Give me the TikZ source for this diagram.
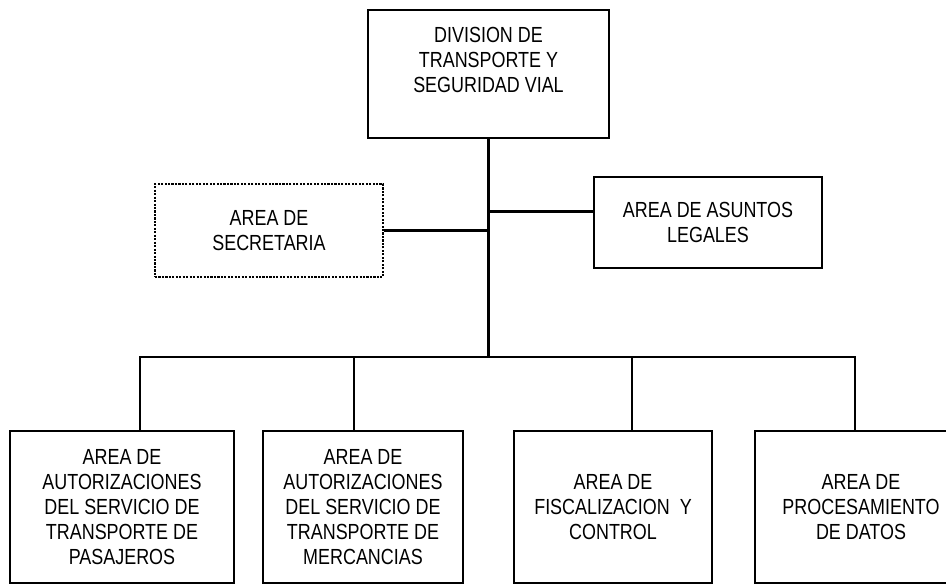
\documentclass[tikz,border=0pt]{standalone}
\usepackage{fontspec}
\setmainfont{Liberation Sans}[FakeStretch=0.82]
\usetikzlibrary{calc}

\begin{document}
\begin{tikzpicture}[
  x=0.75pt, y=-0.75pt,
  font=\fontsize{16.4pt}{18.75pt}\selectfont,
  unit/.style={draw, line width=1.6pt, align=center, inner sep=0pt, minimum height=114pt},
  side/.style={draw, line width=1.6pt, align=center, inner sep=0pt, minimum width=171pt},
  link/.style={line width=1.6pt}
]
  \useasboundingbox (0,0) rectangle (946,585);
  \clip (0,0) rectangle (946,585);

  \node[draw, line width=1.6pt, align=center, inner sep=0pt, minimum width=180.75pt,
        text height=61.5pt, text depth=34.5pt, anchor=north] (div) at (488.5,9)
        {DIVISION DE\\TRANSPORTE Y\\SEGURIDAD VIAL};

  \node[side, densely dotted, line width=1.3pt, minimum height=69.75pt] (sec) at (269,230.5) {AREA DE\\SECRETARIA};
  \node[side, minimum height=68.25pt] (leg) at (708,222.5) {AREA DE ASUNTOS\\LEGALES};

  \node[unit, minimum width=168pt] (pas) at (122,507) {AREA DE\\AUTORIZACIONES\\DEL SERVICIO DE\\TRANSPORTE DE\\PASAJEROS};
  \node[unit, minimum width=150pt] (mer) at (363,507) {AREA DE\\AUTORIZACIONES\\DEL SERVICIO DE\\TRANSPORTE DE\\MERCANCIAS};
  \node[unit, minimum width=148.5pt] (fis) at (613,507) {AREA DE\\FISCALIZACION\ \ Y\\CONTROL};
  \node[unit, minimum width=159pt] (pro) at (861,507) {AREA DE\\PROCESAMIENTO\\DE DATOS};

  % trunk and staff links
  \coordinate (bus) at (488.5,357);
  \draw[link] (div.south) -- (bus);
  \draw[link] (sec.east) -- (sec.east -| div.south);
  \draw[link] ([yshift=8.25pt]leg.west) -- ([yshift=8.25pt]leg.west -| div.south);

  % bus down to the areas
  \draw[link] ([xshift=13.5pt]pas.north) |- (bus) -| ([xshift=-4.5pt]pro.north);
  \draw[link] (bus) -- ([xshift=-6.75pt]mer.north |- bus) -- ([xshift=-6.75pt]mer.north);
  \draw[link] (bus) -- ([xshift=14.25pt]fis.north |- bus) -- ([xshift=14.25pt]fis.north);
\end{tikzpicture}
\end{document}
